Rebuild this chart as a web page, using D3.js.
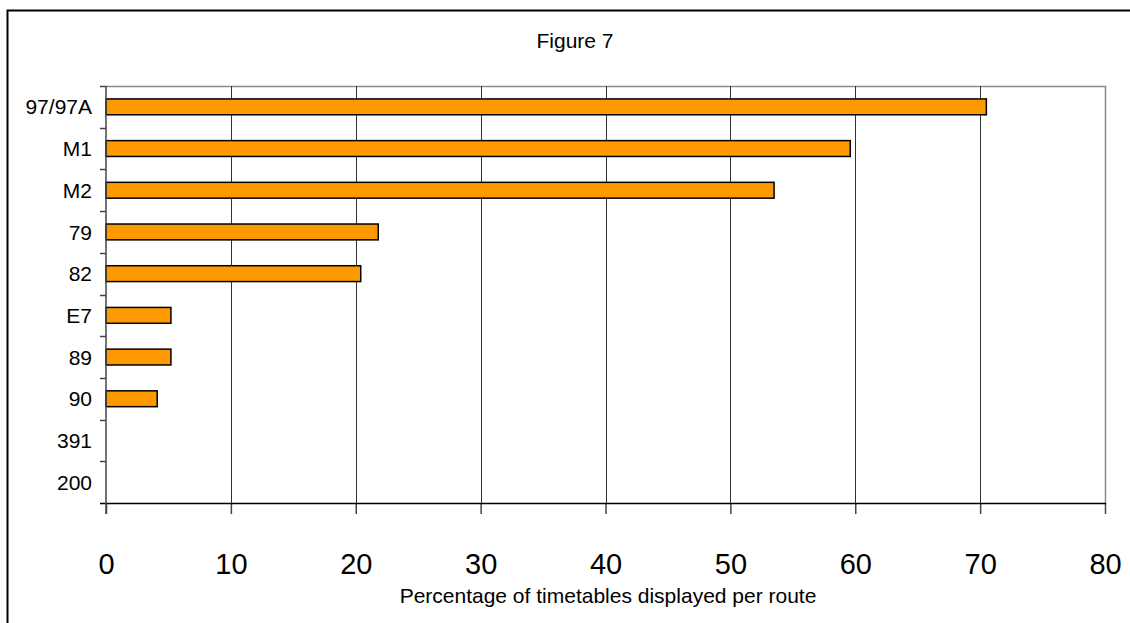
<!DOCTYPE html>
<html>
<head>
<meta charset="utf-8">
<script src="https://cdn.jsdelivr.net/npm/d3@7"></script>
<style>
  html, body { margin: 0; padding: 0; background: #fff; }
  svg { display: block; font-family: Arial, "Liberation Sans", sans-serif; }
</style>
</head>
<body>
<svg id="chart" width="1130" height="623"></svg>
<script>
// Route categories, top to bottom
const routes = ["97/97A", "M1", "M2", "79", "82", "E7", "89", "90", "391", "200"];
// Percentage of timetables displayed per route
const percentages = [70.5, 59.6, 53.5, 21.8, 20.4, 5.2, 5.2, 4.1, 0, 0];
// X axis ticks
const xTicks = [0, 10, 20, 30, 40, 50, 60, 70, 80];

const svg = d3.select("#chart");
const W = 1130, H = 623;
const plot = { left: 106, right: 1105, top: 86, bottom: 503 };

// Outer frame (runs off the right and bottom edges)
svg.append("rect")
  .attr("x", 7.5).attr("y", 10.5)
  .attr("width", W + 20).attr("height", H + 20)
  .attr("fill", "#fff").attr("stroke", "#000").attr("stroke-width", 2);

const x = d3.scaleLinear().domain([0, 80]).range([plot.left, plot.right]);
const y = d3.scaleBand().domain(routes).range([plot.top, plot.bottom]).paddingInner(0.62).paddingOuter(0.31);
const yBand = d3.scaleBand().domain(routes).range([plot.top, plot.bottom]);

// Plot border (top and right)
svg.append("path")
  .attr("d", `M${plot.left},${plot.top + 0.5}H${plot.right + 0.5}V${plot.bottom}`)
  .attr("fill", "none").attr("stroke", "#8a8a8a").attr("stroke-width", 1.5);

// Vertical gridlines
svg.append("g").selectAll("line")
  .data(xTicks.filter(d => d > 0 && d < 80))
  .join("line")
  .attr("x1", d => Math.round(x(d)) + 0.5).attr("x2", d => Math.round(x(d)) + 0.5)
  .attr("y1", plot.top).attr("y2", plot.bottom)
  .attr("stroke", "#333").attr("stroke-width", 1);

// Bars
svg.append("g").selectAll("rect")
  .data(routes.map((r, i) => ({ route: r, value: percentages[i] })).filter(d => d.value > 0))
  .join("rect")
  .attr("x", x(0))
  .attr("y", d => y(d.route))
  .attr("width", d => x(d.value) - x(0))
  .attr("height", y.bandwidth())
  .attr("fill", "#FF9900")
  .attr("stroke", "#000")
  .attr("stroke-width", 1.5);

// Bottom axis
const xAxis = d3.axisBottom(x).tickValues(xTicks).tickSize(11).tickFormat(d3.format("d"));
const gx = svg.append("g").attr("transform", `translate(0,${plot.bottom})`).call(xAxis);
gx.select(".domain").remove();
gx.selectAll(".tick line").attr("stroke", "#444").attr("stroke-width", 1.5);
gx.selectAll(".tick text").attr("font-size", 29).attr("fill", "#000").attr("y", 71).attr("dy", 0);
gx.append("line")
  .attr("x1", plot.left - 6).attr("x2", plot.right + 1)
  .attr("y1", 0.5).attr("y2", 0.5)
  .attr("stroke", "#000").attr("stroke-width", 1.5);

// Left axis: ticks sit on band boundaries, labels centred in bands
const gy = svg.append("g");
gy.append("line")
  .attr("x1", plot.left).attr("x2", plot.left)
  .attr("y1", plot.top).attr("y2", plot.bottom + 11)
  .attr("stroke", "#444").attr("stroke-width", 1.5);
gy.selectAll("line.tk")
  .data(routes)
  .join("line").attr("class", "tk")
  .attr("x1", plot.left - 6).attr("x2", plot.left)
  .attr("y1", d => Math.round(yBand(d)) + 0.5).attr("y2", d => Math.round(yBand(d)) + 0.5)
  .attr("stroke", "#444").attr("stroke-width", 1.5);
gy.selectAll("text")
  .data(routes)
  .join("text")
  .attr("x", plot.left - 14)
  .attr("y", d => yBand(d) + yBand.bandwidth() / 2)
  .attr("dy", "0.36em")
  .attr("text-anchor", "end")
  .attr("font-size", 21)
  .attr("fill", "#000")
  .text(d => d);

// Title
svg.append("text")
  .attr("x", 575).attr("y", 48)
  .attr("text-anchor", "middle")
  .attr("font-size", 21)
  .attr("fill", "#000")
  .text("Figure 7");

// Axis title
svg.append("text")
  .attr("x", 608).attr("y", 603)
  .attr("text-anchor", "middle")
  .attr("font-size", 21)
  .attr("fill", "#000")
  .text("Percentage of timetables displayed per route");
</script>
</body>
</html>
